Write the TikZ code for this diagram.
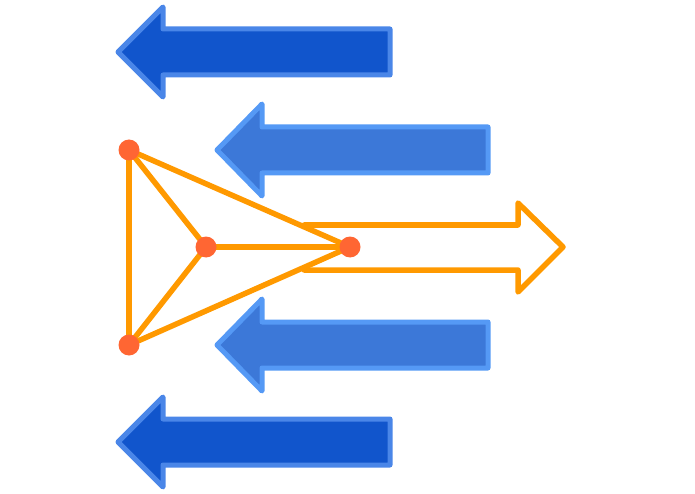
\documentclass[tikz,border=0pt]{standalone}
\usetikzlibrary{backgrounds}
\definecolor{darkfill}{HTML}{1155CC}
\definecolor{darkedge}{HTML}{4A86E8}
\definecolor{midfill}{HTML}{3C78D8}
\definecolor{midedge}{HTML}{5599F5}
\definecolor{orangeline}{HTML}{FF9900}
\definecolor{dotfill}{HTML}{FF6633}
\tikzset{
  darkarrow/.style={fill=darkfill, draw=darkedge, line width=5pt, line join=round},
  midarrow/.style={fill=midfill, draw=midedge, line width=5pt, line join=round},
  edge/.style={draw=orangeline, line width=5.5pt, line cap=round, line join=round},
  dot/.style={circle, fill=dotfill, inner sep=0pt, minimum size=21pt},
}
\begin{document}
\begin{tikzpicture}[x=1pt,y=-1pt]
\useasboundingbox (0,0) rectangle (695,494);
% blue arrows
\draw[darkarrow] (118,52) -- (163,7) -- (163,29) -- (390,29) -- (390,75) -- (163,75) -- (163,97) -- cycle;
\draw[midarrow] (217,150) -- (262,104) -- (262,127) -- (488,127) -- (488,173) -- (262,173) -- (262,196) -- cycle;
\draw[midarrow] (217,345) -- (262,299) -- (262,322) -- (488,322) -- (488,368) -- (262,368) -- (262,391) -- cycle;
\draw[darkarrow] (118,442) -- (163,397) -- (163,419) -- (390,419) -- (390,465) -- (163,465) -- (163,487) -- cycle;
% nodes
\node[dot] (A) at (129,150) {};
\node[dot] (B) at (129,345) {};
\node[dot] (C) at (206,247) {};
\node[dot] (D) at (350,247) {};
\coordinate (ot) at (304,225);
\coordinate (ob) at (304,270);
\begin{pgfonlayer}{background}
\draw[edge] (A.center) -- (B.center);
\draw[edge] (A.center) -- (C.center);
\draw[edge] (B.center) -- (C.center);
\draw[edge] (C.center) -- (D.center);
\draw[edge] (A.center) -- (D.center);
\draw[edge] (B.center) -- (D.center);
\draw[edge] (ot) -- (518,225) -- (518,203) -- (563,247) -- (518,292) -- (518,270) -- (ob);
\end{pgfonlayer}
\end{tikzpicture}
\end{document}
